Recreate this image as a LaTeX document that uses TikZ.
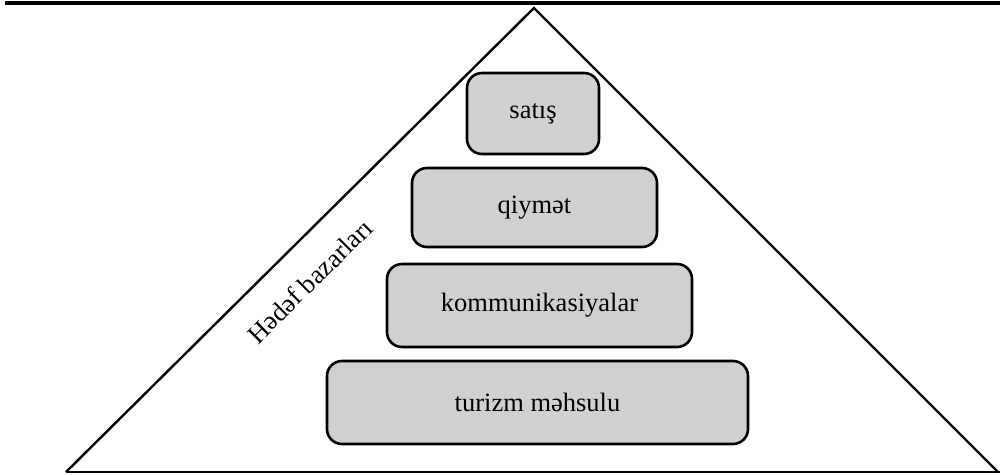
\documentclass[tikz,border=0pt]{standalone}
\usepackage{fontspec}
\setmainfont{Liberation Serif}
\begin{document}
\begin{tikzpicture}[x=1pt,y=-1pt,
  level/.style={draw=black, line width=2.6pt, fill={rgb,255:red,208;green,208;blue,208},
    rounded corners=15pt, inner sep=0pt, font=\fontsize{26.5}{30}\selectfont},
  edge/.style={line width=2.4pt, line join=miter}]
\useasboundingbox (0,0) rectangle (1000,474);
% rule across the top
\coordinate (ruleL) at (5,3);
\coordinate (ruleR) at (1000,3);
\draw[line width=4pt] (ruleL) -- (ruleR);
% pyramid outline
\coordinate (apex) at (534,8);
\coordinate (baseL) at (66,472);
\coordinate (baseR) at (998,472);
\coordinate (baseEnd) at (1000,472);
\draw[edge] (baseL) -- (apex) -- (baseR);
\draw[line width=2.6pt] (baseL) -- (baseEnd);
% levels of the pyramid
\node[level, minimum width=132pt, minimum height=81pt] (sales) at (533,113.5) {satış};
\node[level, minimum width=245pt, minimum height=79pt] (price) at (534.5,207.5) {qiymət};
\node[level, minimum width=305pt, minimum height=83pt] (comm) at (539.5,305.5) {kommunikasiyalar};
\node[level, minimum width=421pt, minimum height=83pt] (product) at (537.5,402.5) {turizm məhsulu};
% side label
\node[rotate=44.7, font=\fontsize{26.5}{30}\selectfont] (target) at (310,281) {Hədəf bazarları};
\end{tikzpicture}
\end{document}
